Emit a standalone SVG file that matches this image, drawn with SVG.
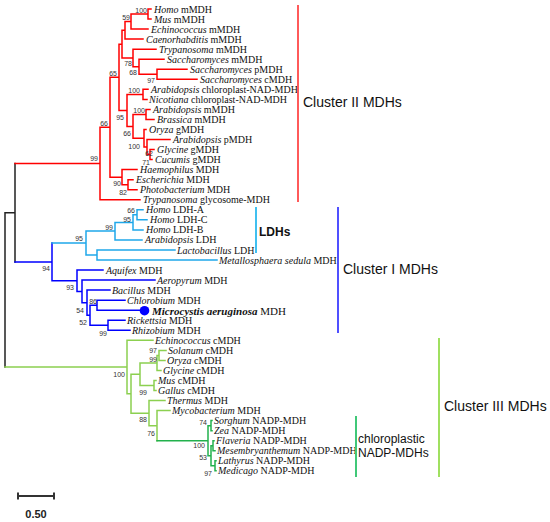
<svg xmlns="http://www.w3.org/2000/svg" width="550" height="522" viewBox="0 0 550 522">
<style>
.t{font-family:"Liberation Serif","Times New Roman",serif;font-size:10px;fill:#111}
.i{font-style:italic}
.bs{font-family:"Liberation Sans",Arial,sans-serif;font-size:7px;fill:#333;text-anchor:end}
.cl{font-family:"Liberation Sans",Arial,sans-serif;font-size:14px;fill:#111}
.br{fill:none;stroke-width:1.5;stroke-linecap:square}
.k{stroke:#222}.r{stroke:#ff0000}.cy{stroke:#1fa8ea}.bl{stroke:#0000ff}.g{stroke:#8cd050}.dg{stroke:#22b14c}
.bar{stroke-width:2;fill:none}
</style>
<rect width="550" height="522" fill="#fff"/>
<g id="connectors">
<path class="br k" d="M15,163.5V261.9M5,212.7H15M5,212.7V367"/>
<path class="br r" d="M15,163.5H100M100,127.2V199.8H140M100,127.2H110M110,77.3V177.2M110,77.3H119M110,177.2H122M122,169.6V184.7M122,169.6H137M122,184.7H128M128,179.7V189.7M128,179.7H133M128,189.7H137
M119,44.2V110.4M119,44.2H122M122,30.3V58M122,30.3H125M125,21.6V39.1M125,39.1H143M125,21.6H131M131,14V29.1M131,29.1H148M131,14H148M148,9V19M148,9H151M148,19H151
M122,58H133M133,49.2V66.7M133,49.2H156M133,66.7H139M139,59.2V74.3M139,59.2H164M139,74.3H157M157,69.2V79.3M157,69.2H187M157,79.3H197
M119,110.4H127M127,94.4V126.4M127,94.4H143M143,89.3V99.4M143,89.3H148M143,99.4H147M127,126.4H133M133,114.4V138.3M133,114.4H146M146,109.4V119.4M146,109.4H150M146,119.4H154
M133,138.3H144M144,129.5V147M144,129.5H146M144,147H147M147,139.5V154.6M147,139.5H170M147,154.6H150M150,149.6V159.6M150,149.6H154M150,159.6H152"/>
<path class="br bl" d="M15,261.9H52M52,243.1V280.7M52,280.7H77M77,270V291.4M77,270H103M77,291.4H82M82,280.1V302.7M82,280.1H155M82,302.7H87M87,290.1V315.2M87,290.1H110M87,315.2H90M90,305.2V325.3M90,305.2H97M97,300.2V310.2M97,300.2H125M97,310.2H140M90,325.3H108M108,320.2V330.3M108,320.2H125M108,330.3H130"/>
<path class="br cy" d="M52,243.1H86M86,231.1V255M86,231.1H115M115,222.4V239.9M115,239.9H142M115,222.4H133M133,214.8V229.9M133,229.9H143M133,214.8H137M137,209.8V219.8M137,209.8H143M137,219.8H147M86,255H97M97,250V260M97,250H175M97,260H217"/>
<path class="br g" d="M5,367H127M127,340.3V393.7M127,340.3H153M127,393.7H131M131,374.2V413.2M131,374.2H140M140,362.9V385.5M140,362.9H157M157,355.4V370.4M157,355.4H159M159,350.4V360.4M159,350.4H166M159,360.4H165M157,370.4H161M140,385.5H154M154,380.5V390.5M154,380.5H156M154,390.5H156M131,413.2H149M149,400.6V425.7M149,400.6H165M149,425.7H157M157,410.6V440.8M157,410.6H170"/>
<path class="br dg" d="M157,440.8H208M208,425.7V455.8M208,425.7H211M211,420.6V430.7M211,420.6H212M211,430.7H212M208,455.8H211M211,445.8V465.8M211,445.8H213M213,440.7V450.8M213,440.7H214M213,450.8H215M211,465.8H215M215,460.8V470.8M215,460.8H216M215,470.8H216"/>
</g>
<g id="bootstrap" class="bs">
<text x="147" y="12.5">100</text><text x="130" y="19.5">59</text><text x="117" y="75.5">65</text><text x="132" y="65.5">78</text><text x="137" y="74.5">68</text><text x="155" y="82.5">97</text>
<text x="140" y="92.5">100</text><text x="145" y="112.5">100</text><text x="124" y="119.5">95</text><text x="131" y="135.5">66</text><text x="140" y="148.5">100</text><text x="153" y="155.5">62</text><text x="150" y="164.5">71</text>
<text x="108" y="125.5">66</text><text x="98" y="160.5">99</text><text x="121" y="185.5">90</text><text x="127" y="194.5">82</text>
<text x="135" y="212.5">66</text><text x="131" y="221.5">95</text><text x="113" y="229.5">99</text><text x="83" y="240.5">95</text><text x="50" y="270.5">94</text><text x="74" y="289.5">93</text><text x="97" y="303.5">86</text><text x="84" y="312.5">54</text><text x="87" y="324.5">52</text><text x="107" y="335.5">99</text>
<text x="125" y="376.5">100</text><text x="157" y="352.5">97</text><text x="157" y="361.5">99</text><text x="147" y="394.5">99</text><text x="147" y="421.5">88</text><text x="155" y="435.5">76</text>
<text x="207" y="424.5">74</text><text x="205" y="447.5">100</text><text x="207" y="459.5">53</text><text x="212" y="475.5">97</text>
</g>
<g id="leaves" class="t">
<g id="n1"><text x="154" y="12.5"><tspan class="i">Homo</tspan> mMDH</text></g>
<g id="n2"><text x="154" y="22.5"><tspan class="i">Mus</tspan> mMDH</text></g>
<g id="n3"><text x="151" y="32.6"><tspan class="i">Echinococcus</tspan> mMDH</text></g>
<g id="n4"><text x="146" y="42.6"><tspan class="i">Caenorhabditis</tspan> mMDH</text></g>
<g id="n5"><text x="159" y="52.7"><tspan class="i">Trypanosoma</tspan> mMDH</text></g>
<g id="n6"><text x="167" y="62.7"><tspan class="i">Saccharomyces</tspan> mMDH</text></g>
<g id="n7"><text x="190" y="72.7"><tspan class="i">Saccharomyces</tspan> pMDH</text></g>
<g id="n8"><text x="200" y="82.8"><tspan class="i">Saccharomyces</tspan> cMDH</text></g>
<g id="n9"><text x="151" y="92.8"><tspan class="i">Arabidopsis</tspan> chloroplast-NAD-MDH</text></g>
<g id="n10"><text x="149" y="102.9"><tspan class="i">Nicotiana</tspan> chloroplast-NAD-MDH</text></g>
<g id="n11"><text x="153" y="112.9"><tspan class="i">Arabidopsis</tspan> mMDH</text></g>
<g id="n12"><text x="157" y="122.9"><tspan class="i">Brassica</tspan> mMDH</text></g>
<g id="n13"><text x="149" y="133"><tspan class="i">Oryza</tspan> gMDH</text></g>
<g id="n14"><text x="173" y="143"><tspan class="i">Arabidopsis</tspan> pMDH</text></g>
<g id="n15"><text x="157" y="153.1"><tspan class="i">Glycine</tspan> gMDH</text></g>
<g id="n16"><text x="155" y="163.1"><tspan class="i">Cucumis</tspan> gMDH</text></g>
<g id="n17"><text x="140" y="173.1"><tspan class="i">Haemophilus</tspan> MDH</text></g>
<g id="n18"><text x="136" y="183.2"><tspan class="i">Escherichia</tspan> MDH</text></g>
<g id="n19"><text x="140" y="193.2"><tspan class="i">Photobacterium</tspan> MDH</text></g>
<g id="n20"><text x="143" y="203.3"><tspan class="i">Trypanosoma</tspan> glycosome-MDH</text></g>
<g id="n21"><text x="146" y="213.3"><tspan class="i">Homo</tspan> LDH-A</text></g>
<g id="n22"><text x="150" y="223.3"><tspan class="i">Homo</tspan> LDH-C</text></g>
<g id="n23"><text x="146" y="233.4"><tspan class="i">Homo</tspan> LDH-B</text></g>
<g id="n24"><text x="145" y="243.4"><tspan class="i">Arabidopsis</tspan> LDH</text></g>
<g id="n25"><text x="177" y="253.5"><tspan class="i">Lactobacillus</tspan> LDH</text></g>
<g id="n26"><text x="219" y="263.5"><tspan class="i">Metallosphaera sedula</tspan> MDH</text></g>
<g id="n27"><text x="106" y="273.5"><tspan class="i">Aquifex</tspan> MDH</text></g>
<g id="n28"><text x="157" y="283.6"><tspan class="i">Aeropyrum</tspan> MDH</text></g>
<g id="n29"><text x="112" y="293.6"><tspan class="i">Bacillus</tspan> MDH</text></g>
<g id="n30"><text x="127" y="303.7"><tspan class="i">Chlorobium</tspan> MDH</text></g>
<g id="n31"><circle cx="144.5" cy="310.7" r="4.8" fill="#0000ff"/><text x="152" y="314.5" style="font-size:11px"><tspan class="i" font-weight="bold">Microcystis aeruginosa</tspan> MDH</text></g>
<g id="n32"><text x="127" y="323.7"><tspan class="i">Rickettsia</tspan> MDH</text></g>
<g id="n33"><text x="132" y="333.8"><tspan class="i">Rhizobium</tspan> MDH</text></g>
<g id="n34"><text x="155" y="343.8"><tspan class="i">Echinococcus</tspan> cMDH</text></g>
<g id="n35"><text x="168" y="353.9"><tspan class="i">Solanum</tspan> cMDH</text></g>
<g id="n36"><text x="167" y="363.9"><tspan class="i">Oryza</tspan> cMDH</text></g>
<g id="n37"><text x="163" y="373.9"><tspan class="i">Glycine</tspan> cMDH</text></g>
<g id="n38"><text x="158" y="384"><tspan class="i">Mus</tspan> cMDH</text></g>
<g id="n39"><text x="158" y="394"><tspan class="i">Gallus</tspan> cMDH</text></g>
<g id="n40"><text x="167" y="404.1"><tspan class="i">Thermus</tspan> MDH</text></g>
<g id="n41"><text x="172" y="414.1"><tspan class="i">Mycobacterium</tspan> MDH</text></g>
<g id="n42"><text x="214" y="424.1"><tspan class="i">Sorghum</tspan> NADP-MDH</text></g>
<g id="n43"><text x="214" y="434.2"><tspan class="i">Zea</tspan> NADP-MDH</text></g>
<g id="n44"><text x="216" y="444.2"><tspan class="i">Flaveria</tspan> NADP-MDH</text></g>
<g id="n45"><text x="217" y="454.3"><tspan class="i">Mesembryanthemum</tspan> NADP-MDH</text></g>
<g id="n46"><text x="218" y="464.3"><tspan class="i">Lathyrus</tspan> NADP-MDH</text></g>
<g id="n47"><text x="218" y="474.3"><tspan class="i">Medicago</tspan> NADP-MDH</text></g>
</g>
<g id="clusters">
<g id="c2"><line x1="298" y1="5" x2="298" y2="202" stroke="#ff5a5a" stroke-width="2"/><text class="cl" x="303" y="107">Cluster II MDHs</text></g>
<g id="cldh"><line x1="256" y1="207" x2="256" y2="253" stroke="#40c0f0" stroke-width="2"/><text class="cl" x="259" y="236" style="font-size:12px;font-weight:bold">LDHs</text></g>
<g id="c1"><line x1="338" y1="207" x2="338" y2="333" stroke="#5050ff" stroke-width="2"/><text class="cl" x="343" y="274">Cluster I MDHs</text></g>
<g id="c3"><line x1="439" y1="338" x2="439" y2="477" stroke="#a0e060" stroke-width="2"/><text class="cl" x="444" y="411">Cluster III MDHs</text></g>
<g id="cnadp"><line x1="356" y1="416" x2="356" y2="477" stroke="#40c878" stroke-width="2"/><text class="cl" x="358" y="443" style="font-size:12px">chloroplastic</text><text class="cl" x="358" y="457" style="font-size:12px">NADP-MDHs</text></g>
</g>
<g id="scale">
<path class="bar" stroke="#333" d="M18,496H54M18,492.5V499.5M54,492.5V499.5"/>
<text x="36" y="518" text-anchor="middle" style="font-family:'Liberation Sans',Arial,sans-serif;font-size:11px;font-weight:bold;fill:#222">0.50</text>
</g>
</svg>
